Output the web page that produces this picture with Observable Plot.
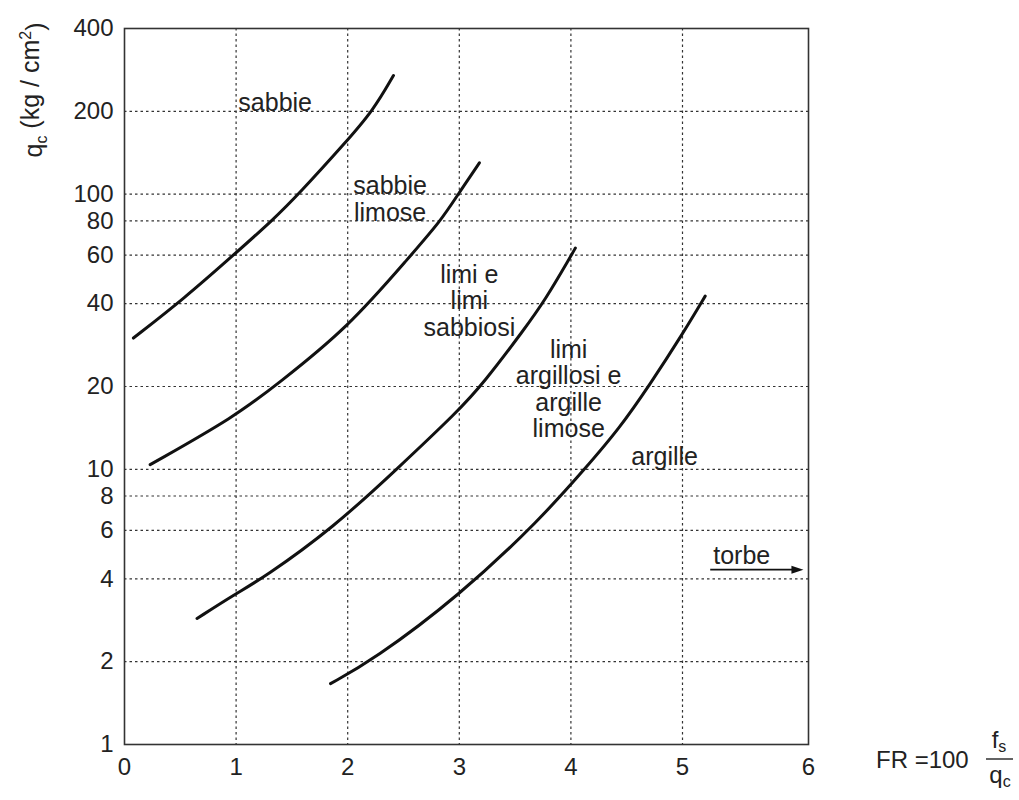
<!DOCTYPE html>
<html>
<head>
<meta charset="utf-8">
<script src="https://cdn.jsdelivr.net/npm/d3@7"></script>
<script src="https://cdn.jsdelivr.net/npm/@observablehq/plot@0.6"></script>
<style>
  body { margin: 0; background: #fff; }
</style>
</head>
<body>
<div id="chart"></div>
<script>
// ---- data ----
const xTicks = [0, 1, 2, 3, 4, 5, 6];
const yTicks = [1, 2, 4, 6, 8, 10, 20, 40, 60, 80, 100, 200, 400];
const xGrid = [1, 2, 3, 4, 5];
const yGrid = [2, 4, 6, 8, 10, 20, 40, 60, 80, 100, 200];

const curveSabbie = [
  [0.08, 30.0], [0.53, 41.6], [0.995, 61], [1.335, 81], [1.56, 100], [1.98, 154], [2.23, 202], [2.41, 270]
];
const curveSabbieLimose = [
  [0.23, 10.4], [0.995, 15.6], [1.37, 20.4], [2.0, 32.6], [2.56, 59.6], [2.83, 79.6], [2.99, 100], [3.18, 130]
];
const curveLimi = [
  [0.65, 2.87], [0.995, 3.53], [1.245, 4.03], [1.87, 6.13], [2.45, 10.1], [2.99, 16.3], [3.21, 20.4], [3.59, 32.6], [3.77, 41.3], [4.0, 59.6], [4.04, 63.7]
];
const curveArgille = [
  [1.846, 1.665], [2.222, 2.02], [3.0, 3.47], [3.73, 6.61], [4.13, 10.1], [4.43, 14.0], [4.71, 20.4], [5.0, 31.0], [5.18, 42.6]
];

const zoneLabels = [
  {text: "sabbie", x: 1.35, y: 216},
  {text: "sabbie\nlimose", x: 2.38, y: 96},
  {text: "limi e\nlimi\nsabbiosi", x: 3.09, y: 41},
  {text: "limi\nargillosi e\nargille\nlimose", x: 3.98, y: 19.6},
  {text: "argille", x: 4.84, y: 11.1},
  {text: "torbe", x: 5.47, y: 4.85}
];
const torbeArrow = [{x1: 5.22, x2: 5.9, y: 4.32}];
const torbeHead = [{x: 5.96, y: 4.32}];

// ---- build table ----
const curves = [
  ...curveSabbie.map(([x, y]) => ({id: "a", x, y})),
  ...curveSabbieLimose.map(([x, y]) => ({id: "b", x, y})),
  ...curveLimi.map(([x, y]) => ({id: "c", x, y})),
  ...curveArgille.map(([x, y]) => ({id: "d", x, y}))
];

const arrowHead = {
  draw(ctx) {
    ctx.moveTo(6, 0);
    ctx.lineTo(-6, -4);
    ctx.lineTo(-6, 4);
    ctx.closePath();
  }
};

const font = "'Liberation Sans', Arial, Helvetica, sans-serif";
const gridStyle = {stroke: "#333", strokeWidth: 1.2, strokeDasharray: "2.5,3"};

const chart = Plot.plot({
  width: 1019,
  height: 800,
  marginLeft: 124,
  marginRight: 211,
  marginTop: 28,
  marginBottom: 56,
  style: {fontFamily: font, fontSize: "24px", color: "#222", background: "#fff"},
  x: {type: "linear", domain: [0, 5, 6], range: [124, 682, 808], axis: null},
  y: {type: "log", domain: [1, 400], range: [744, 28], axis: null},
  marks: [
    Plot.ruleX(xGrid, gridStyle),
    Plot.ruleY(yGrid, gridStyle),
    Plot.frame({stroke: "#333", strokeWidth: 1.6}),
    Plot.text(yTicks, {frameAnchor: "left", y: d => d, text: d => String(d), textAnchor: "end", dx: -11, fontSize: 24, fill: "#222"}),
    Plot.text(xTicks, {frameAnchor: "bottom", x: d => d, text: d => String(d), lineAnchor: "top", dy: 13, fontSize: 24, fill: "#222"}),
    Plot.line(curves, {x: "x", y: "y", z: "id", curve: "basis", stroke: "#111", strokeWidth: 3}),
    Plot.text(zoneLabels, {x: "x", y: "y", text: "text", lineHeight: 1.06, fill: "#222", fontSize: 25}),
    Plot.link(torbeArrow, {x1: "x1", x2: "x2", y1: "y", y2: "y", stroke: "#111", strokeWidth: 1.8}),
    Plot.dot(torbeHead, {x: "x", y: "y", symbol: arrowHead, fill: "#111", stroke: "none", dx: -6})
  ]
});

document.getElementById("chart").appendChild(chart);

// axis titles with subscripts
const svg = d3.select(chart);
const yt = svg.append("text")
  .attr("transform", "translate(42,90) rotate(-90)")
  .attr("text-anchor", "middle")
  .attr("font-family", font)
  .attr("font-size", 25)
  .attr("fill", "#222");
yt.append("tspan").text("q");
yt.append("tspan").attr("dy", "0.3em").attr("font-size", 16).text("c");
yt.append("tspan").attr("dy", "-0.3em").text(" (kg / cm");
yt.append("tspan").attr("dy", "-0.5em").attr("font-size", 16).text("2");
yt.append("tspan").attr("dy", "0.5em").text(")");

const xt = svg.append("g").attr("font-family", font).attr("fill", "#222");
xt.append("text").attr("x", 876).attr("y", 768).attr("text-anchor", "start").attr("font-size", 24).text("FR =100");
xt.append("line").attr("x1", 986).attr("x2", 1013).attr("y1", 759).attr("y2", 759)
  .attr("stroke", "#222").attr("stroke-width", 1.4);
const fs = xt.append("text").attr("x", 999).attr("y", 748).attr("text-anchor", "middle").attr("font-size", 24);
fs.append("tspan").text("f");
fs.append("tspan").attr("dy", "0.25em").attr("font-size", 16).text("s");
const qc = xt.append("text").attr("x", 1000).attr("y", 783).attr("text-anchor", "middle").attr("font-size", 24);
qc.append("tspan").text("q");
qc.append("tspan").attr("dy", "0.25em").attr("font-size", 16).text("c");
</script>
</body>
</html>
